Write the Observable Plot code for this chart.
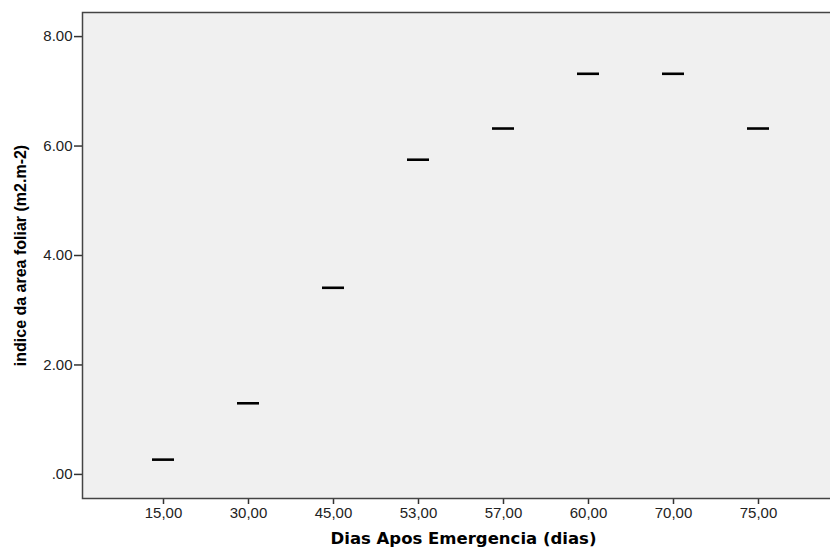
<!DOCTYPE html>
<html><head><meta charset="utf-8">
<script src="https://cdn.jsdelivr.net/npm/d3@7"></script>
<script src="https://cdn.jsdelivr.net/npm/@observablehq/plot@0.6"></script>
<style>
body{margin:0;background:#fff}
g[aria-label="x-axis tick label"] text, g[aria-label="y-axis tick label"] text{font-size:15px;fill:#222}
</style>
</head><body><div id="chart"></div>
<script>
const days = ["15,00","30,00","45,00","53,00","57,00","60,00","70,00","75,00"];
const iaf = [0.27, 1.30, 3.41, 5.75, 6.32, 7.32, 7.32, 6.32];
const yTicks = [0, 2, 4, 6, 8];
const xTitle = "Dias Apos Emergencia (dias)";
const yTitle = "indice da area foliar (m2.m-2)";

const data = days.map((d, i) => ({d, v: iaf[i]}));
const fmtY = v => d3.format(".2f")(v).replace(/^0\./, ".");

const chart = Plot.plot({
  width: 830,
  height: 549,
  marginLeft: 82,
  marginRight: -4,
  marginTop: 12,
  marginBottom: 51,
  style: {background: "#fff", fontFamily: "'Liberation Sans', Arial, sans-serif", fontSize: "14px", color: "#333"},
  x: {type: "band", domain: days, range: [120.8, 800.8], paddingInner: 0.741, paddingOuter: 0.3705, align: 0.5, label: null},
  y: {domain: [-0.44, 8.44], label: null},
  marks: [
    Plot.frame({fill: "#f0f0f0", stroke: null}),
    Plot.axisY(yTicks, {tickSize: 8, tickPadding: 2, tickFormat: fmtY, stroke: "#333", strokeWidth: 1.5, label: null}),
    Plot.axisX({tickSize: 6, tickPadding: 3, stroke: "#333", strokeWidth: 1.5, label: null}),
    Plot.frame({stroke: "#444", strokeWidth: 1.5}),
    Plot.tickY(data, {x: "d", y: "v", stroke: "#000", strokeWidth: 2.6}),
    Plot.text([yTitle], {frameAnchor: "left", textAnchor: "middle", rotate: -90, dx: -62, text: d => d, fontWeight: "bold", fontSize: 16, fill: "#000"}),
    Plot.text([xTitle], {frameAnchor: "bottom", textAnchor: "middle", lineAnchor: "middle", dy: 40, dx: 5, text: d => d, fontWeight: "bold", fontSize: 16.5, fontFamily: "'DejaVu Sans', Verdana, sans-serif", fill: "#000"})
  ]
});
document.getElementById("chart").appendChild(chart);
</script>
</body></html>
